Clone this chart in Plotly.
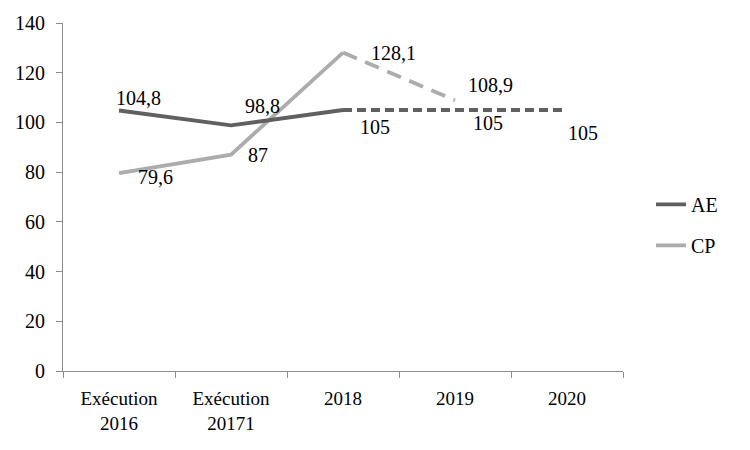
import plotly.graph_objects as go

categories = ["Exécution<br>2016", "Exécution<br>20171", "2018", "2019", "2020"]
ae_exec = [104.8, 98.8, 105, None, None]
ae_proj = [None, None, 105, 105, 105]
cp_exec = [79.6, 87, 128.1, None, None]
cp_proj = [None, None, 128.1, 108.9, None]
ae_values = [104.8, 98.8, 105, 105, 105]
cp_values = [79.6, 87, 128.1, 108.9, None]
y_ticks = [0, 20, 40, 60, 80, 100, 120, 140]

AE_COLOR = "#606060"
CP_COLOR = "#acacac"
FONT = "Liberation Serif"

fig = go.Figure()
fig.add_trace(go.Scatter(x=categories, y=cp_exec, mode="lines", name="CP",
                         line=dict(color=CP_COLOR, width=3.8), legendgroup="CP",
                         legendrank=2))
fig.add_trace(go.Scatter(x=categories, y=cp_proj, mode="lines", showlegend=False,
                         line=dict(color=CP_COLOR, width=3.8, dash="15px,9px"), legendgroup="CP"))
fig.add_trace(go.Scatter(x=categories, y=ae_exec, mode="lines", name="AE",
                         line=dict(color=AE_COLOR, width=3.8), legendgroup="AE",
                         legendrank=1))
fig.add_trace(go.Scatter(x=categories, y=ae_proj, mode="lines", showlegend=False,
                         line=dict(color=AE_COLOR, width=3.8, dash="9px,5px"), legendgroup="AE"))

def fmt(v):
    s = ("%g" % v)
    return s.replace(".", ",")

# label offsets (pixels) for each point
ae_offsets = [(19, -13), (31, -19), (32, 17), (33, 13), (16, 23)]
cp_offsets = [(36, 4), (27, 0), (50, 0), (35, -15), None]

annotations = []
for series, offs in ((ae_values, ae_offsets), (cp_values, cp_offsets)):
    for i, v in enumerate(series):
        if v is None or offs[i] is None:
            continue
        dx, dy = offs[i]
        annotations.append(dict(x=i, y=v, xref="x", yref="y", text=fmt(v), showarrow=False,
                                xshift=dx, yshift=-dy,
                                font=dict(family=FONT, size=20, color="black")))

fig.update_layout(
    width=750, height=450,
    margin=dict(l=55, r=135, t=15, b=87),
    paper_bgcolor="white", plot_bgcolor="white",
    font=dict(family=FONT, size=19, color="black"),
    showlegend=True,
    legend=dict(x=1.05, y=0.42, yanchor="middle", xanchor="left",
                font=dict(family=FONT, size=20, color="black"),
                traceorder="grouped", tracegroupgap=12),
    annotations=annotations,
    xaxis=dict(type="category", range=[-0.5, 4.5], showgrid=False, automargin=False,
               showline=True, linecolor="#8c8c8c", linewidth=1,
               ticks="outside", tickson="boundaries", ticklen=6, tickcolor="#8c8c8c",
               ticklabelstandoff=10,
               tickfont=dict(family=FONT, size=19, color="black")),
    yaxis=dict(range=[0, 140], tickvals=y_ticks, showgrid=False, automargin=False,
               showline=True, linecolor="#8c8c8c", linewidth=1,
               ticks="outside", ticklen=6, tickcolor="#8c8c8c", zeroline=False,
               ticklabelstandoff=7,
               tickfont=dict(family=FONT, size=20, color="black")),
)

fig.write_html("out.html")
